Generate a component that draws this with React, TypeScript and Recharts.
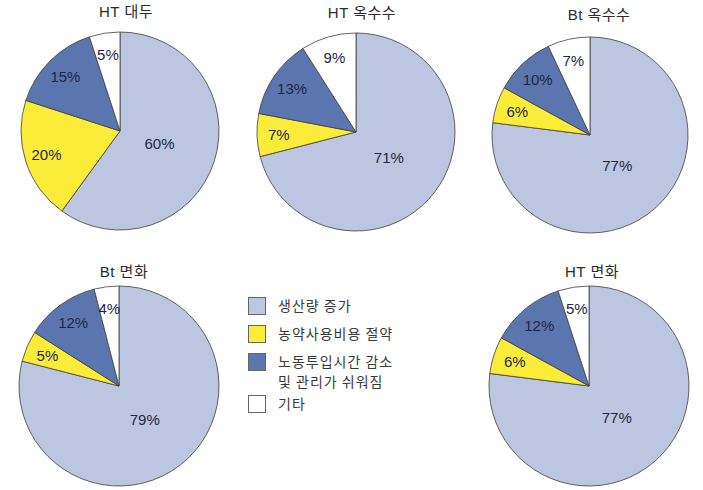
import { Cell, Pie, PieChart } from 'recharts';

// 도입 이유 (범례 순서 = 조각 순서, 12시 방향부터 시계방향)
const CATEGORIES = ['생산량 증가', '농약사용비용 절약', '노동투입시간 감소\n및 관리가 쉬워짐', '기타'];
const CROPS = ['HT 대두', 'HT 옥수수', 'Bt 옥수수', 'Bt 면화', 'HT 면화'];

const HT_SOY = [60, 20, 15, 5];
const HT_CORN = [71, 7, 13, 9];
const BT_CORN = [77, 6, 10, 7];
const BT_COTTON = [79, 5, 12, 4];
const HT_COTTON = [77, 6, 12, 5];

const SERIES = [HT_SOY, HT_CORN, BT_CORN, BT_COTTON, HT_COTTON];

const COLORS = ['#bdc6e1', '#fbec3a', '#5b76ae', '#ffffff'];
const STROKE = '#3d3d3d';
const FONT = '"Liberation Sans", Arial, "Noto Sans CJK KR", sans-serif';
const KFONT = '"Noto Sans CJK KR", "Liberation Sans", sans-serif';

// pie placement on the 703x490 canvas
const LAYOUT = [
  { cx: 120, cy: 131, r: 99, tx: 126, ty: 12 },
  { cx: 356, cy: 132, r: 99, tx: 362, ty: 13 },
  { cx: 590, cy: 135, r: 98, tx: 599, ty: 15 },
  { cx: 119, cy: 386, r: 100, tx: 124, ty: 272 },
  { cx: 589, cy: 386, r: 100, tx: 592, ty: 272 },
];

const RAD = Math.PI / 180;

function renderLabel(props: any) {
  const { cx, cy, midAngle, outerRadius, percent, value } = props;
  const f = percent > 0.5 ? 0.42 : 0.78;
  const x = cx + outerRadius * f * Math.cos(-midAngle * RAD);
  const y = cy + outerRadius * f * Math.sin(-midAngle * RAD);
  return (
    <text
      x={x}
      y={y}
      textAnchor="middle"
      dominantBaseline="central"
      fill="#1d2846"
      fontSize={15}
      fontFamily={FONT}
    >
      {`${value}%`}
    </text>
  );
}

const LEGEND_TOP = [297, 325, 353, 395];

export default function App() {
  return (
    <div style={{ position: 'absolute', left: 0, top: 0, width: 703, height: 490, background: '#fff' }}>
      <PieChart width={703} height={490} margin={{ top: 0, right: 0, bottom: 0, left: 0 }}>
        {SERIES.map((vals, i) => (
          <Pie
            key={CROPS[i]}
            data={vals.map((v, j) => ({ name: CATEGORIES[j], value: v }))}
            dataKey="value"
            cx={LAYOUT[i].cx}
            cy={LAYOUT[i].cy}
            outerRadius={LAYOUT[i].r}
            startAngle={90}
            endAngle={-270}
            label={renderLabel}
            labelLine={false}
            isAnimationActive={false}
          >
            {vals.map((_, j) => (
              <Cell key={j} fill={COLORS[j]} stroke={STROKE} strokeWidth={0.8} />
            ))}
          </Pie>
        ))}
      </PieChart>

      {CROPS.map((c, i) => (
        <div
          key={c}
          style={{
            position: 'absolute',
            left: LAYOUT[i].tx - 60,
            width: 120,
            top: LAYOUT[i].ty - 10,
            height: 20,
            lineHeight: '20px',
            textAlign: 'center',
            fontFamily: FONT,
            fontWeight: 400,
            fontSize: 15,
            letterSpacing: 0.5,
            color: '#2b2b2b',
          }}
        >
          {c}
        </div>
      ))}

      {CATEGORIES.map((c, i) => (
        <div key={c} style={{ position: 'absolute', left: 248, top: LEGEND_TOP[i], display: 'flex' }}>
          <div
            style={{
              width: 16,
              height: 16,
              background: COLORS[i],
              border: '1px solid #666',
              flexShrink: 0,
            }}
          />
          <div
            style={{
              marginLeft: 12,
              marginTop: -2,
              fontFamily: KFONT,
              fontSize: 14,
              letterSpacing: 1,
              lineHeight: '20px',
              color: '#3a3a3a',
              whiteSpace: 'pre',
            }}
          >
            {c}
          </div>
        </div>
      ))}
    </div>
  );
}
